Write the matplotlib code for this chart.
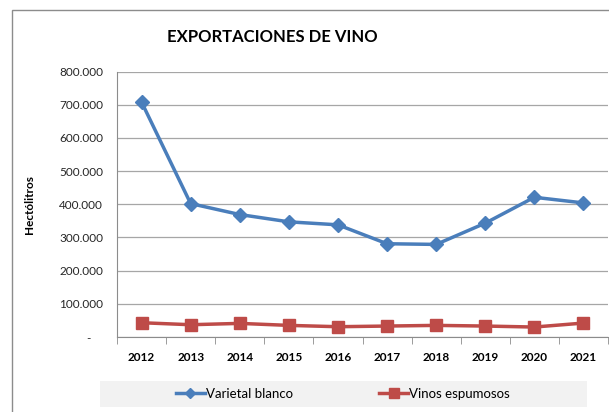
import matplotlib.pyplot as plt
from matplotlib.patches import Rectangle
from matplotlib.ticker import FuncFormatter, FixedLocator

plt.rcParams['font.family'] = ['Lato', 'DejaVu Sans']

years = ['2012', '2013', '2014', '2015', '2016', '2017', '2018', '2019', '2020', '2021']
varietal_blanco = [708000, 402000, 369000, 347000, 338000, 281000, 279000, 343000, 421000, 404000]
vinos_espumosos = [43000, 37000, 41000, 35000, 31000, 33000, 35000, 33000, 30000, 42000]

blue = '#4a7ebb'
red = '#be4b48'
grid_col = '#a6a6a6'


def miles(v, pos):
    if v == 0:
        return '-    '
    return f'{int(v):,}'.replace(',', '.')


fig = plt.figure(figsize=(6.09, 4.12), dpi=100)

# outer chart frame (cut off on right and bottom)
fig.patches.append(Rectangle((11.5 / 609, -0.1), 1.2, 1 - 10 / 412 + 0.1,
                             transform=fig.transFigure, fill=False,
                             edgecolor='#8c8c8c', lw=1))

ax = fig.add_axes([117 / 609, 75 / 412, 491 / 609, 265.5 / 412])
x = range(len(years))
ax.plot(x, varietal_blanco, color=blue, lw=2.5, marker='D', ms=7,
        label='Varietal blanco')
ax.plot(x, vinos_espumosos, color=red, lw=2.5, marker='s', ms=8.5,
        label='Vinos espumosos')

ax.set_xlim(-0.5, len(years) - 0.5)
ax.set_ylim(0, 800000)
ax.set_yticks(range(0, 800001, 100000))
ax.yaxis.set_major_formatter(FuncFormatter(miles))
ax.set_xticks(list(x))
ax.set_xticklabels(years, fontweight='bold')
ax.xaxis.set_minor_locator(FixedLocator([i - 0.5 for i in range(len(years) + 1)]))
ax.tick_params(axis='x', which='major', length=0, pad=11, labelsize=8.5)
ax.tick_params(axis='x', which='minor', length=5, color='#8c8c8c', direction='out')
ax.tick_params(axis='y', length=0, pad=10, labelsize=8.5, labelcolor='#262626')

ax.grid(axis='y', color=grid_col, lw=0.9)
ax.set_axisbelow(True)
for s in ['top', 'right']:
    ax.spines[s].set_visible(False)
for s in ['left', 'bottom']:
    ax.spines[s].set_color('#8c8c8c')

ax.set_ylabel('Hectólitros', fontweight='bold', fontsize=8.5)
ax.yaxis.set_label_coords(-0.168, 0.5)

fig.text(272 / 609, 1 - 37 / 412, 'EXPORTACIONES DE VINO', ha='center', va='center',
         fontsize=12, fontweight='bold')

# legend band
fig.patches.append(Rectangle((100 / 609, 5 / 412), 487 / 609, 26 / 412,
                             transform=fig.transFigure, facecolor='#f2f2f2',
                             edgecolor='none'))
fig.legend(loc='center', bbox_to_anchor=(343 / 609, 18 / 412), ncol=2,
           frameon=False, fontsize=9.5, handlelength=2.2, columnspacing=6.5,
           handletextpad=0.1, markerscale=0.8)

fig.savefig('out.png', dpi=100)
